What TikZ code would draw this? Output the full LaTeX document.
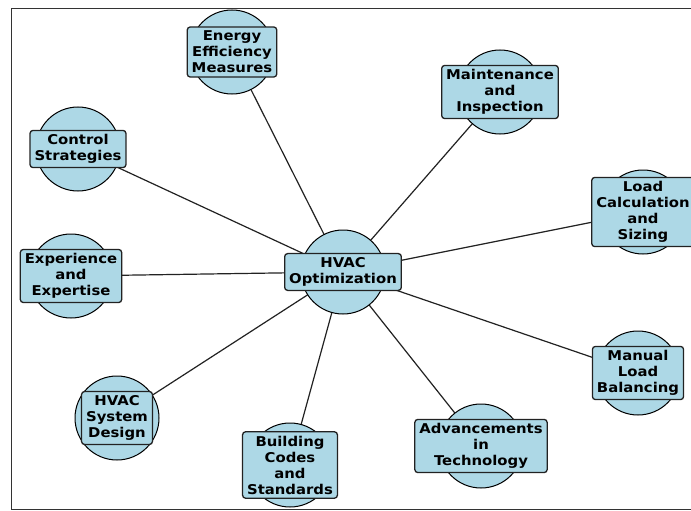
\documentclass[tikz,border=0pt]{standalone}
\usepackage{fontspec}
\setmainfont{DejaVu Sans}[FakeStretch=1.1]
\definecolor{lblue}{HTML}{ADD8E6}
\definecolor{edgec}{HTML}{222222}
\begin{document}
\begin{tikzpicture}[x=1pt,y=-1pt,
  circ/.style={circle,draw=black,fill=lblue,line width=1pt,minimum size=84pt,inner sep=0pt},
  lbl/.style={draw=edgec,fill=lblue,rounded corners=3pt,line width=1.3pt,align=center,
    font=\fontsize{13.5}{16}\selectfont\bfseries,inner xsep=4.5pt,inner ysep=4pt},
  conn/.style={draw=edgec,line width=1.2pt}]
\useasboundingbox (0,0) rectangle (691,511);
\clip (0,0) rectangle (691,511);
\fill[white] (0,0) rectangle (691,511);
\draw[draw=black!80,line width=1pt] (11,9) rectangle (720,509);
\coordinate (p0) at (343,272);
\coordinate (p1) at (232,52);
\coordinate (p2) at (500,92);
\coordinate (p3) at (78,149);
\coordinate (p4) at (643,212);
\coordinate (p5) at (71,276);
\coordinate (p6) at (638,373);
\coordinate (p7) at (117,418);
\coordinate (p8) at (290,465);
\coordinate (p9) at (481,446);
\foreach \i in {1,...,9} \draw[conn] (p0) -- (p\i);
\foreach \i in {0,...,9} \node[circ] (c\i) at (p\i) {};
\node[lbl] (n0) at (p0) {HVAC\\Optimization};
\node[lbl] (n1) at (p1) {Energy\\Efficiency\\Measures};
\node[lbl] (n2) at (p2) {Maintenance\\and\\Inspection};
\node[lbl] (n3) at (p3) {Control\\Strategies};
\node[lbl] (n4) at (p4) {Load\\Calculation\\and\\Sizing};
\node[lbl] (n5) at (p5) {Experience\\and\\Expertise};
\node[lbl] (n6) at (p6) {Manual\\Load\\Balancing};
\node[lbl] (n7) at (p7) {HVAC\\System\\Design};
\node[lbl] (n8) at (p8) {Building\\Codes\\and\\Standards};
\node[lbl] (n9) at (p9) {Advancements\\in\\Technology};
\end{tikzpicture}
\end{document}
